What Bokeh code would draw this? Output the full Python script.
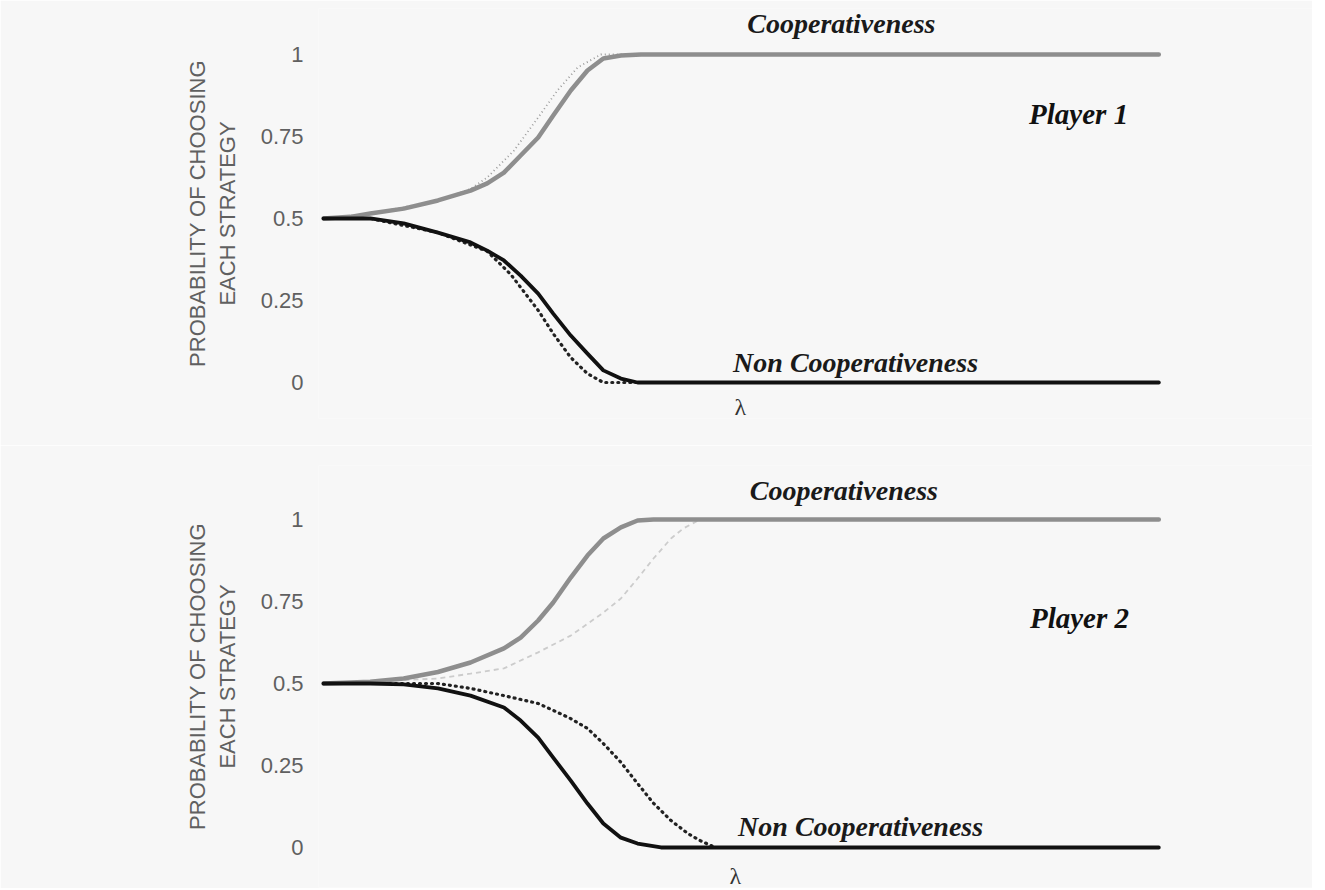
from bokeh.plotting import figure
from bokeh.layouts import column
from bokeh.models import Range1d, FixedTicker, Label, ColumnDataSource
from bokeh.core.properties import value
from bokeh.embed import file_html
from bokeh.resources import INLINE

# ---------------- data (x = lambda, y = probability) ----------------
y_ticks = [0, 0.25, 0.5, 0.75, 1]
y_tick_labels = {0: "0", 0.25: "0.25", 0.5: "0.5", 0.75: "0.75", 1: "1"}

# Player 1
p1_coop_x = [0, 0.32, 0.56, 0.96, 1.37, 1.76, 1.96, 2.16, 2.36, 2.57, 2.75, 2.96, 3.16, 3.35, 3.56, 3.80, 10.0]
p1_coop_y = [0.5, 0.505, 0.515, 0.530, 0.555, 0.585, 0.607, 0.64, 0.692, 0.747, 0.814, 0.89, 0.951, 0.988, 0.997, 1.0, 1.0]
p1_coop2_x = [0, 0.56, 1.37, 1.76, 1.96, 2.28, 2.57, 2.80, 3.04, 3.32, 10.0]
p1_coop2_y = [0.5, 0.515, 0.555, 0.59, 0.625, 0.707, 0.808, 0.89, 0.96, 1.0, 1.0]
p1_non_x = [0, 0.56, 0.96, 1.37, 1.76, 1.96, 2.16, 2.36, 2.57, 2.75, 2.96, 3.16, 3.35, 3.56, 3.76, 10.0]
p1_non_y = [0.5, 0.5, 0.485, 0.457, 0.427, 0.402, 0.372, 0.326, 0.271, 0.21, 0.143, 0.088, 0.037, 0.012, 0.0, 0.0]
p1_non2_x = [0, 0.56, 1.37, 1.96, 2.24, 2.36, 2.57, 2.75, 2.96, 3.16, 3.35, 10.0]
p1_non2_y = [0.5, 0.5, 0.457, 0.40, 0.33, 0.29, 0.22, 0.149, 0.076, 0.027, 0.0, 0.0]

# Player 2
p2_coop_x = [0, 0.56, 0.96, 1.37, 1.76, 2.16, 2.36, 2.57, 2.75, 2.96, 3.16, 3.35, 3.56, 3.76, 3.95, 10.0]
p2_coop_y = [0.5, 0.505, 0.515, 0.535, 0.564, 0.607, 0.64, 0.692, 0.747, 0.823, 0.89, 0.942, 0.976, 0.997, 1.0, 1.0]
p2_coop2_x = [0, 1.37, 1.76, 2.16, 2.57, 2.96, 3.35, 3.56, 3.76, 3.95, 4.16, 4.31, 4.51, 10.0]
p2_coop2_y = [0.5, 0.515, 0.53, 0.546, 0.595, 0.646, 0.716, 0.759, 0.82, 0.881, 0.942, 0.973, 1.0, 1.0]
p2_non_x = [0, 0.56, 0.96, 1.37, 1.76, 2.16, 2.36, 2.57, 2.75, 2.96, 3.16, 3.35, 3.56, 3.76, 4.04, 10.0]
p2_non_y = [0.5, 0.5, 0.497, 0.485, 0.463, 0.427, 0.387, 0.335, 0.274, 0.204, 0.134, 0.073, 0.03, 0.012, 0.0, 0.0]
p2_non2_x = [0, 1.37, 1.76, 2.16, 2.57, 2.75, 2.96, 3.16, 3.35, 3.56, 3.76, 3.95, 4.16, 4.36, 4.51, 4.69, 10.0]
p2_non2_y = [0.5, 0.5, 0.485, 0.463, 0.439, 0.418, 0.393, 0.363, 0.317, 0.26, 0.195, 0.135, 0.082, 0.043, 0.021, 0.0, 0.0]

# annotation texts
coop_text = "Cooperativeness"
non_text = "Non Cooperativeness"
players = ["Player 1", "Player 2"]
x_label = "λ"
y_label = "PROBABILITY OF CHOOSING\nEACH STRATEGY"

BG = "#f7f7f7"
SERIF = value("Liberation Serif")


def make_panel(height, y_start, y_end, border_top, border_bottom, series, player, txt_pos, lam_pos):
    p = figure(width=1312, height=height, output_backend="svg", toolbar_location=None,
               x_range=Range1d(-0.06, 11.84), y_range=Range1d(y_start, y_end),
               min_border_left=318, min_border_right=0,
               min_border_top=border_top, min_border_bottom=border_bottom)
    p.background_fill_color = BG
    p.border_fill_color = BG
    p.outline_line_color = None
    p.grid.visible = False
    p.xaxis.visible = False

    ax = p.yaxis[0]
    ax.ticker = FixedTicker(ticks=y_ticks)
    ax.major_label_overrides = y_tick_labels
    ax.axis_line_color = None
    ax.major_tick_line_color = None
    ax.minor_tick_line_color = None
    ax.major_label_standoff = 9
    ax.major_label_text_font = "Liberation Sans"
    ax.major_label_text_font_size = "22px"
    ax.major_label_text_color = "#606060"
    ax.axis_label = y_label
    ax.axis_label_standoff = 18
    ax.axis_label_text_font = "Liberation Sans"
    ax.axis_label_text_font_size = "22px"
    ax.axis_label_text_font_style = "normal"
    ax.axis_label_text_color = "#606060"

    (cx, cy), (c2x, c2y, c2style), (nx, ny), (n2x, n2y) = series
    # secondary (thin) cooperativeness
    p.line(c2x, c2y, line_color=c2style[0], line_width=c2style[1], line_dash=c2style[2])
    # main cooperativeness
    p.line(cx, cy, line_color="#8e8e8e", line_width=4.5, line_cap="round", line_join="round")
    # dotted non cooperativeness
    p.line(n2x, n2y, line_color="#222222", line_width=3.2, line_dash="1 5", line_cap="round")
    # main non cooperativeness
    p.line(nx, ny, line_color="#111111", line_width=3.8, line_cap="round", line_join="round")

    (tcx, tcy), (tpx, tpy), (tnx, tny) = txt_pos
    src = ColumnDataSource(dict(x=[tcx, tnx], y=[tcy, tny], t=[coop_text, non_text]))
    p.text("x", "y", "t", source=src, text_font=SERIF, text_font_size="28px",
           text_font_style="bold italic", text_color="#1a1a1a",
           text_align="center", text_baseline="middle")
    p.text([tpx], [tpy], [player], text_font=SERIF, text_font_size="29px",
           text_font_style="bold italic", text_color="#111111",
           text_align="center", text_baseline="middle")
    p.add_layout(Label(x=lam_pos[0], y=lam_pos[1], text=x_label, text_font="Liberation Serif",
                       text_font_size="24px", text_color="#333333",
                       text_align="center", text_baseline="middle"))
    return p


top = make_panel(445, -0.1098, 1.1402, 8, 27,
                 [(p1_coop_x, p1_coop_y),
                  (p1_coop2_x, p1_coop2_y, ("#9a9a9a", 1.8, "1 3")),
                  (p1_non_x, p1_non_y),
                  (p1_non2_x, p1_non2_y)],
                 players[0],
                 [(6.20, 1.094), (9.04, 0.82), (6.37, 0.061)],
                 (4.99, -0.075))

bottom = make_panel(443, -0.122, 1.1646, 20, 1,
                    [(p2_coop_x, p2_coop_y),
                     (p2_coop2_x, p2_coop2_y, ("#cccccc", 1.8, "5 4")),
                     (p2_non_x, p2_non_y),
                     (p2_non2_x, p2_non2_y)],
                    players[1],
                    [(6.23, 1.088), (9.05, 0.70), (6.43, 0.064)],
                    (4.93, -0.088))

layout = column(top, bottom, spacing=0)
open("out.html", "w").write(file_html(layout, INLINE))
